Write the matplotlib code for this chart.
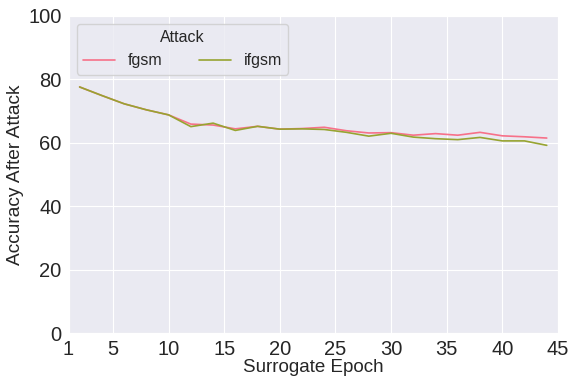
import matplotlib
matplotlib.use("Agg")
import matplotlib.pyplot as plt
import seaborn as sns

# values
epochs = [2, 4, 6, 8, 10, 12, 14, 16, 18, 20, 22, 24, 26, 28, 30, 32, 34, 36, 38, 40, 42, 44]
fgsm = [77.6, 74.9, 72.3, 70.4, 68.8, 65.9, 65.6, 64.4, 65.2, 64.3, 64.5, 64.9,
        63.8, 63.1, 63.2, 62.4, 62.9, 62.4, 63.3, 62.2, 61.9, 61.5]
ifgsm = [77.6, 74.9, 72.3, 70.4, 68.8, 65.1, 66.2, 63.9, 65.2, 64.3, 64.4, 64.2,
         63.3, 62.1, 63.0, 61.8, 61.3, 61.0, 61.7, 60.6, 60.6, 59.2]
xticks = [1, 5, 10, 15, 20, 25, 30, 35, 40, 45]

sns.set_style("darkgrid")
plt.rcParams['font.family'] = ['Liberation Sans', 'DejaVu Sans']
pal = sns.color_palette("husl", 8)

fig, ax = plt.subplots(figsize=(5.71, 3.79), dpi=100)
ax.plot(epochs, fgsm, color=pal[0], lw=1.2, label="fgsm")
ax.plot(epochs, ifgsm, color=pal[2], lw=1.2, label="ifgsm")

ax.set_xlim(1, 45)
ax.set_ylim(0, 100)
ax.set_xticks(xticks)
ax.tick_params(labelsize=14.5, pad=1.5)
ax.set_xlabel("Surrogate Epoch", fontsize=13.5, labelpad=0)
ax.set_ylabel("Accuracy After Attack", fontsize=13.8, labelpad=3)
ax.legend(title="Attack", ncol=2, fontsize=11.5, title_fontsize=11.5,
          loc="upper left", columnspacing=2.3)

fig.subplots_adjust(left=0.12, right=0.977, top=0.958, bottom=0.121)
fig.savefig("out.png")
